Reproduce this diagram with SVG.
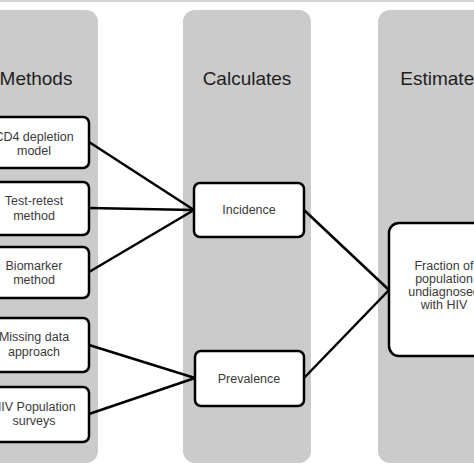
<svg xmlns="http://www.w3.org/2000/svg" width="474" height="474" viewBox="0 0 474 474">
<style>
.col{fill:#cbcbcb}
.box{fill:#fff;stroke:#000;stroke-width:2.5}
.hdr{font-family:"Liberation Sans",Arial,sans-serif;font-size:19px;fill:#1e1e1e;text-anchor:middle}
.lbl{font-family:"Liberation Sans",Arial,sans-serif;font-size:12.5px;fill:#3a3a3a;text-anchor:middle}
.con{stroke:#000;stroke-width:2.5;fill:none}
</style>
<rect x="0" y="0" width="474" height="474" fill="#fff"/>
<rect x="0" y="0" width="474" height="2" fill="#d2d2d2"/>
<g id="col-methods"><rect class="col" x="-30" y="10" width="128" height="453" rx="12"/><text class="hdr" x="36" y="85">Methods</text></g>
<g id="col-calculates"><rect class="col" x="183" y="10" width="128" height="453" rx="12"/><text class="hdr" x="247" y="85">Calculates</text></g>
<g id="col-estimates"><rect class="col" x="378" y="10" width="128" height="453" rx="12"/><text class="hdr" x="442" y="85">Estimates</text></g>
<g id="connectors">
<line class="con" x1="89" y1="142" x2="194" y2="210"/>
<line class="con" x1="89" y1="208" x2="194" y2="210"/>
<line class="con" x1="89" y1="272" x2="194" y2="210"/>
<line class="con" x1="89" y1="345" x2="195" y2="378"/>
<line class="con" x1="89" y1="414" x2="195" y2="378"/>
<line class="con" x1="304" y1="210" x2="389" y2="290"/>
<line class="con" x1="304" y1="378" x2="389" y2="290"/>
</g>
<g id="cd4"><rect class="box" x="-21" y="117" width="110" height="51" rx="6"/><text class="lbl" x="34" y="141">CD4 depletion</text><text class="lbl" x="34" y="155">model</text></g>
<g id="testretest"><rect class="box" x="-21" y="182" width="110" height="53" rx="6"/><text class="lbl" x="34" y="205">Test-retest</text><text class="lbl" x="34" y="220">method</text></g>
<g id="biomarker"><rect class="box" x="-21" y="247" width="110" height="51" rx="6"/><text class="lbl" x="34" y="270">Biomarker</text><text class="lbl" x="34" y="284">method</text></g>
<g id="missing"><rect class="box" x="-21" y="318" width="110" height="54" rx="6"/><text class="lbl" x="34" y="341">Missing data</text><text class="lbl" x="34" y="356">approach</text></g>
<g id="surveys"><rect class="box" x="-21" y="387" width="110" height="55" rx="6"/><text class="lbl" x="34" y="411">HIV Population</text><text class="lbl" x="34" y="425">surveys</text></g>
<g id="incidence"><rect class="box" x="194" y="183" width="110" height="54" rx="6"/><text class="lbl" x="249" y="214">Incidence</text></g>
<g id="prevalence"><rect class="box" x="195" y="351" width="109" height="55" rx="6"/><text class="lbl" x="249" y="383">Prevalence</text></g>
<g id="fraction"><rect class="box" x="389" y="223" width="110" height="133" rx="10"/><text class="lbl" x="444" y="270">Fraction of</text><text class="lbl" x="444" y="283">population</text><text class="lbl" x="444" y="296">undiagnosed</text><text class="lbl" x="444" y="309">with HIV</text></g>
</svg>
